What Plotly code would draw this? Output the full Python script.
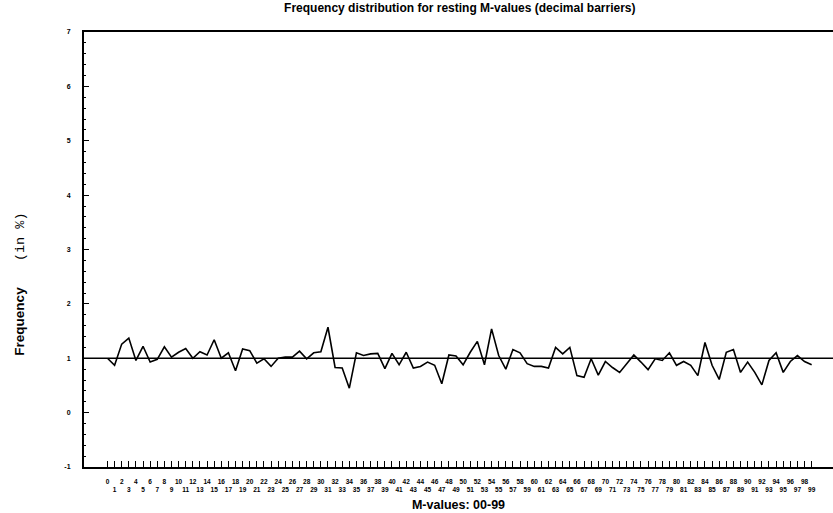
import plotly.graph_objects as go

m_values = list(range(100))
frequency = [
    1.00, 0.87, 1.26, 1.37, 0.96, 1.22, 0.93, 0.98, 1.21, 1.02,
    1.11, 1.18, 1.00, 1.12, 1.06, 1.34, 1.00, 1.10, 0.77, 1.17,
    1.14, 0.91, 0.99, 0.85, 1.00, 1.02, 1.02, 1.13, 0.99, 1.10,
    1.12, 1.57, 0.83, 0.82, 0.45, 1.10, 1.05, 1.08, 1.09, 0.81,
    1.09, 0.88, 1.11, 0.82, 0.85, 0.93, 0.87, 0.53, 1.06, 1.04,
    0.88, 1.11, 1.31, 0.88, 1.54, 1.05, 0.80, 1.16, 1.10, 0.90,
    0.85, 0.85, 0.82, 1.20, 1.08, 1.20, 0.68, 0.65, 0.99, 0.69,
    0.94, 0.83, 0.74, 0.90, 1.06, 0.93, 0.79, 0.99, 0.96, 1.10,
    0.87, 0.94, 0.87, 0.68, 1.29, 0.87, 0.61, 1.11, 1.16, 0.74,
    0.93, 0.74, 0.51, 0.96, 1.10, 0.74, 0.94, 1.05, 0.94, 0.88,
]
reference_level = 1.0
x_tick_labels = ["<b>%d</b>" % v if v % 2 == 0 else "<br><b>%d</b>" % v for v in m_values]
y_tick_values = [-1, 0, 1, 2, 3, 4, 5, 6, 7]
y_tick_labels = ["<b>%d</b>" % v for v in y_tick_values]

fig = go.Figure()
fig.add_trace(go.Scatter(
    x=m_values, y=frequency, mode="lines",
    line=dict(color="black", width=1.6), showlegend=False,
))
fig.add_hline(y=reference_level, line=dict(color="black", width=1.6))

fig.update_layout(
    width=833, height=513,
    margin=dict(l=84, r=0, t=32, b=46),
    paper_bgcolor="white", plot_bgcolor="white",
    font=dict(family="Liberation Sans", color="black"),
    title=dict(
        text="<b>Frequency distribution for resting M-values (decimal barriers)</b>",
        x=0.552, xanchor="center", y=0.984, yanchor="middle", yref="container",
        font=dict(size=12, family="Liberation Sans", color="black"),
    ),
    xaxis=dict(
        range=[-3.3, 102],
        tickmode="array", tickvals=m_values, ticktext=x_tick_labels,
        ticks="inside", ticklen=6, tickwidth=1, tickcolor="black",
        tickfont=dict(size=6.5, family="Liberation Sans", color="black"),
        tickangle=0, ticklabelstandoff=7,
        showline=True, linecolor="black", linewidth=2, mirror=True,
        showgrid=False, zeroline=False,
        title=dict(text="<b>M-values: 00-99</b>",
                   font=dict(size=12.5, family="Liberation Sans"), standoff=8),
    ),
    yaxis=dict(
        range=[-1, 7],
        tickmode="array", tickvals=y_tick_values, ticktext=y_tick_labels,
        ticks="inside", ticklen=5, tickwidth=1, tickcolor="black",
        tickfont=dict(size=7, family="Liberation Sans", color="black"),
        ticklabelstandoff=10,
        minor=dict(ticks="inside", ticklen=2, dtick=0.2, tickcolor="black", tickwidth=1),
        showline=True, linecolor="black", linewidth=2, mirror=False,
        showgrid=False, zeroline=False,
    ),
    annotations=[dict(
        text="<b>Frequency</b>&nbsp;&nbsp;&nbsp;&nbsp;&nbsp;&nbsp;&nbsp;<span style='font-family:Liberation Mono'>(in %)</span>",
        xref="paper", yref="paper", x=-0.085, y=0.42,
        xanchor="center", yanchor="middle", textangle=-90, showarrow=False,
        font=dict(size=13.5, family="Liberation Sans", color="black"),
    )],
)

fig.write_html("out.html")
